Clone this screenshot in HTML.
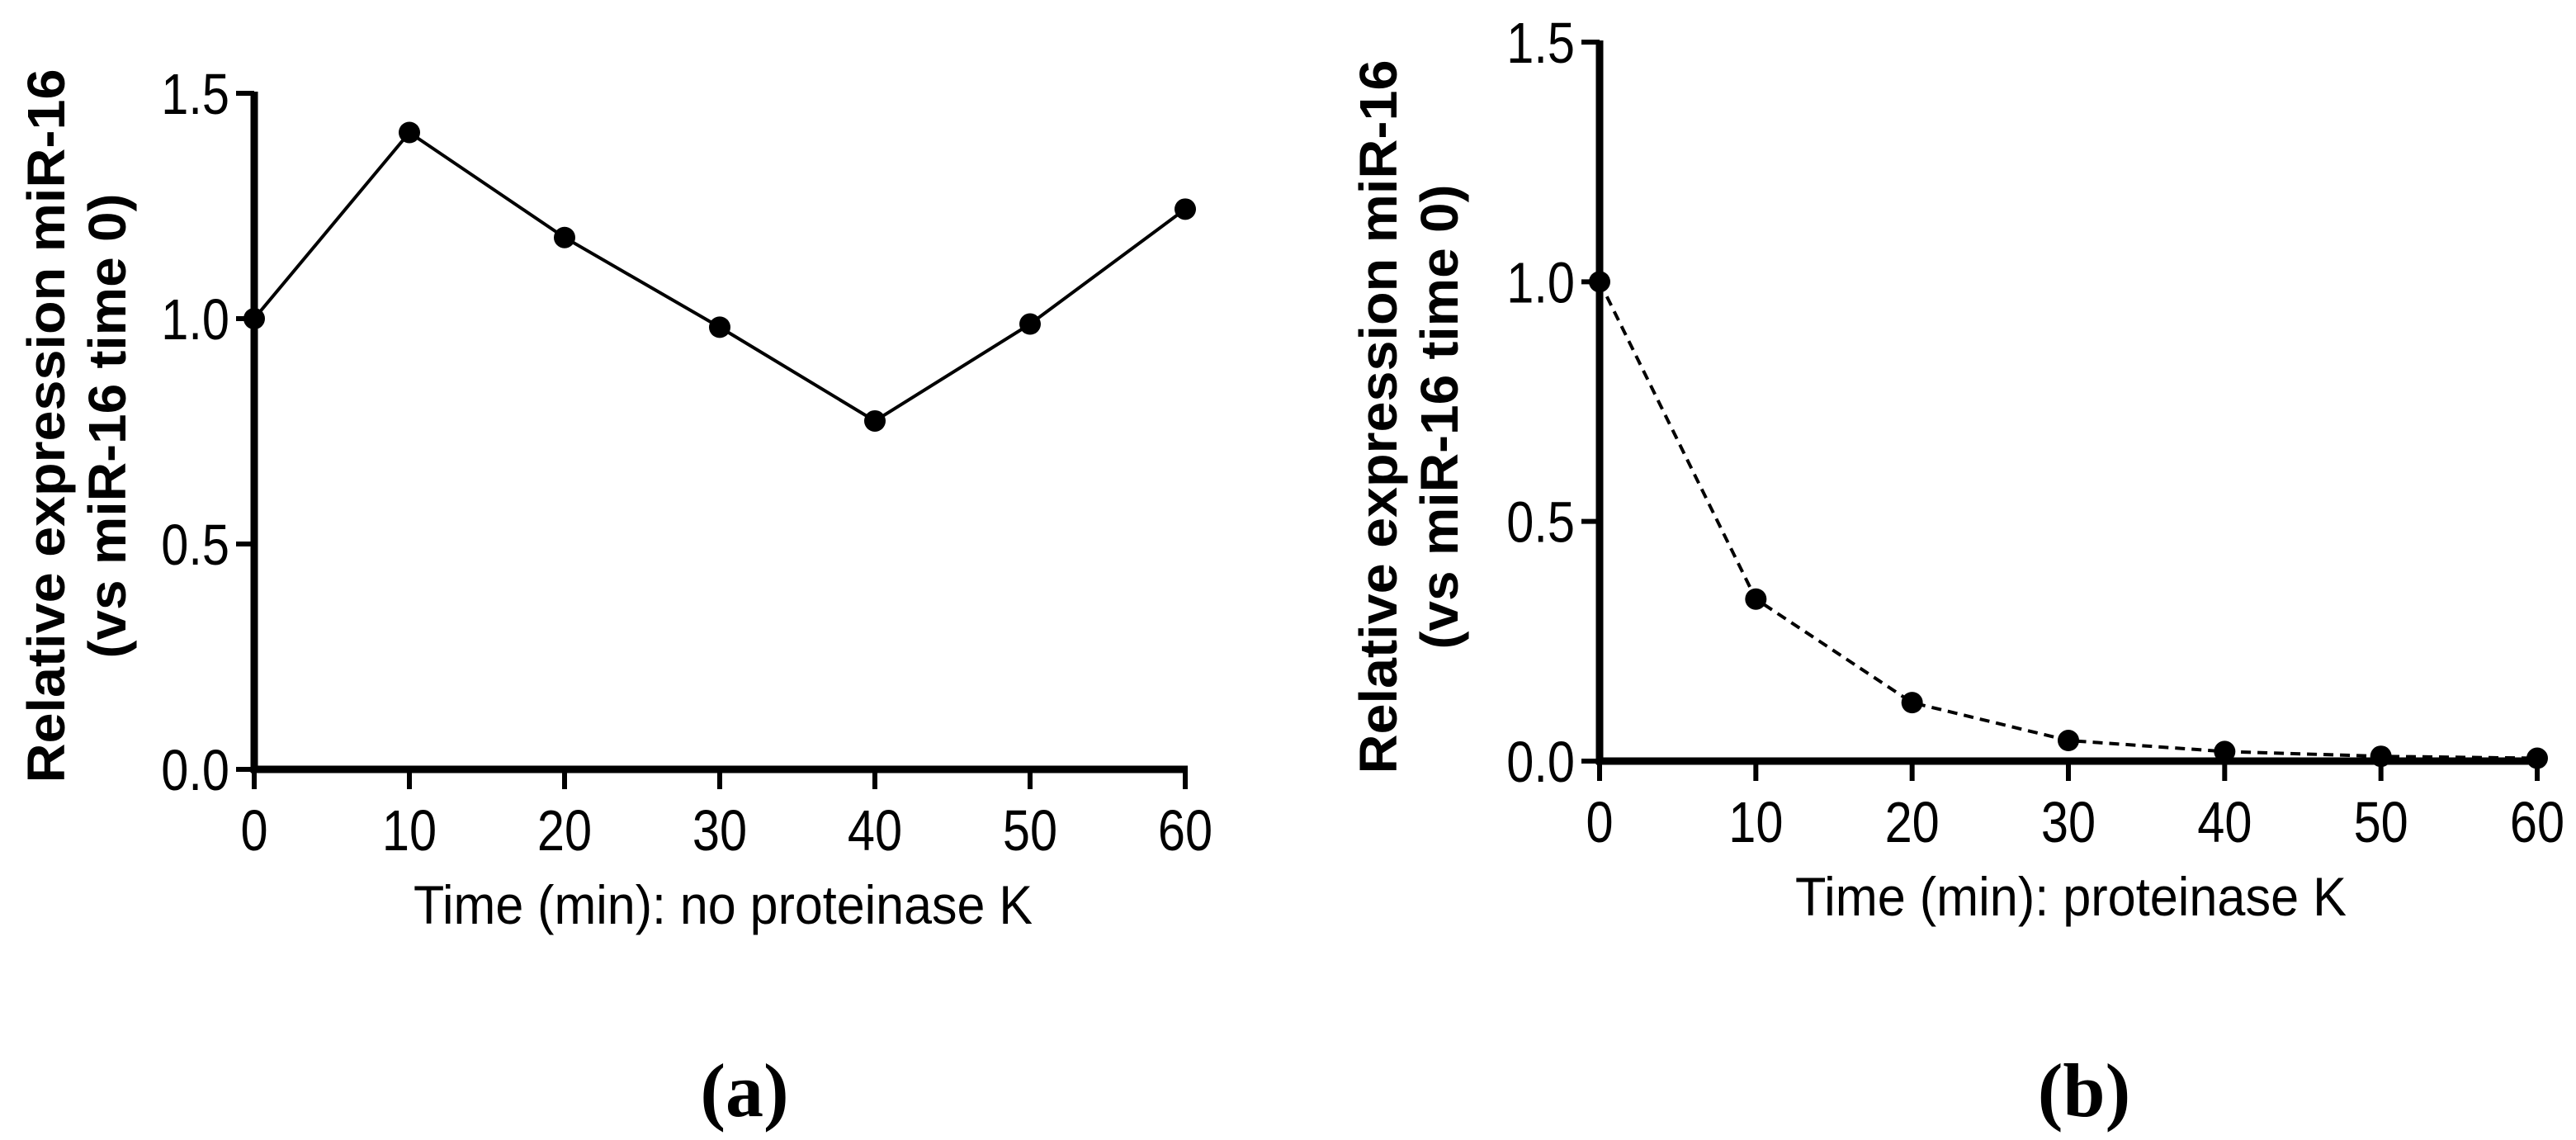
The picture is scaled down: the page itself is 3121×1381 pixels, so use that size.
<!DOCTYPE html>
<html><head><meta charset="utf-8"><style>
html,body{margin:0;padding:0;background:#fff}
svg{display:block}
text{font-family:"Liberation Sans",Arial,sans-serif;fill:#000}
</style></head><body>
<svg id="chart" width="3121" height="1381" viewBox="0 0 3121 1381" xmlns="http://www.w3.org/2000/svg"></svg>
<script>
const timeCategories = [0, 10, 20, 30, 40, 50, 60];
const seriesA = [1.0, 1.413, 1.18, 0.981, 0.773, 0.988, 1.243];
const seriesB = [1.0, 0.338, 0.122, 0.043, 0.02, 0.01, 0.006];
const yTickLabels = ["0.0", "0.5", "1.0", "1.5"];
const yTickValues = [0, 0.5, 1.0, 1.5];
const xTickLabels = ["0", "10", "20", "30", "40", "50", "60"];

const NS = "http://www.w3.org/2000/svg";
const svg = document.getElementById('chart');
function mk(tag, attrs, parent) {
  const e = document.createElementNS(NS, tag);
  for (const k in attrs) e.setAttribute(k, attrs[k]);
  (parent || svg).appendChild(e);
  return e;
}

function panel(cfg) {
  const g = mk('g', {});
  
  
  const xs = v => cfg.x0 + (v - 0) / 60 * (cfg.x1 - cfg.x0);
  const ys = v => cfg.y0 - v / 1.5 * (cfg.y0 - cfg.y1);
  const ya = mk('line', {x1: cfg.x0, y1: ys(1.5) - 2, x2: cfg.x0, y2: cfg.y0 + 4, stroke: '#000', 'stroke-width': 9}, g);
  
  
  const xa = mk('line', {x1: cfg.x0 - 4, y1: cfg.y0, x2: xs(60) + 3, y2: cfg.y0, stroke: '#000', 'stroke-width': 9}, g);
  
  
  yTickValues.forEach((v, i) => {
    const t = mk('line', {x1: cfg.x0 - 22, y1: ys(v), x2: cfg.x0, y2: ys(v), stroke: '#000', 'stroke-width': 6}, g);
    
    
    const l = mk('text', {x: 0, y: 0, 'font-size': 70, 'text-anchor': 'end',
      transform: `translate(${cfg.x0 - 30},${ys(v) + 25}) scale(0.85,1)`}, g);
    l.textContent = yTickLabels[i];
    
    
  });
  timeCategories.forEach((v, i) => {
    const t = mk('line', {x1: xs(v), y1: cfg.y0, x2: xs(v), y2: cfg.y0 + 24, stroke: '#000', 'stroke-width': 6}, g);
    
    
    const l = mk('text', {x: 0, y: 0, 'font-size': 70, 'text-anchor': 'middle',
      transform: `translate(${xs(v)},${cfg.y0 + 98}) scale(0.85,1)`}, g);
    l.textContent = xTickLabels[i];
    
    
  });
  const pts = timeCategories.map((v, i) => xs(v) + ',' + ys(cfg.data[i])).join(' ');
  const pl = mk('polyline', {points: pts, fill: 'none', stroke: '#000', 'stroke-width': 4}, g);
  if (cfg.dashed) pl.setAttribute('stroke-dasharray', '12,8');
  
  
  timeCategories.forEach((v, i) => {
    const c = mk('ellipse', {cx: xs(v), cy: ys(cfg.data[i]), rx: 13, ry: 13, fill: '#000'}, g);
    
    
  });
  const yt = mk('text', {'font-size': 64, 'font-weight': 'bold', 'text-anchor': 'middle',
    transform: `translate(${cfg.ytx},${cfg.yty}) rotate(-90)`}, g);
  
  
  const s1 = mk('tspan', {x: 0, y: 0, textLength: 865, lengthAdjust: 'spacingAndGlyphs'}, yt);
  s1.textContent = 'Relative expression miR-16';
  const s2 = mk('tspan', {x: 0, y: 74, textLength: 563, lengthAdjust: 'spacingAndGlyphs'}, yt);
  s2.textContent = '(vs miR-16 time 0)';
  const xt = mk('text', {x: cfg.xtx, y: cfg.y0 + 187, 'font-size': 66, 'text-anchor': 'middle',
    textLength: cfg.xtl, lengthAdjust: 'spacingAndGlyphs'}, g);
  xt.textContent = cfg.xtitle;
  
  
  const pl2 = mk('text', {x: cfg.lx, y: 1352, 'font-size': 92, 'font-weight': 'bold', 'text-anchor': 'middle',
    style: 'font-family:"Liberation Serif",serif'}, g);
  pl2.textContent = cfg.label;
  
  
}

panel({name: 'panel-a', x0: 308, x1: 1436, y0: 932, y1: 113, data: seriesA, dashed: false,
  ytx: 78, yty: 516, xtx: 876, xtl: 750, xtitle: 'Time (min): no proteinase K', lx: 902, label: '(a)'});
panel({name: 'panel-b', x0: 1938, x1: 3074, y0: 922, y1: 51, data: seriesB, dashed: true,
  ytx: 1692, yty: 505, xtx: 2509, xtl: 668, xtitle: 'Time (min): proteinase K', lx: 2525, label: '(b)'});
</script>
</body></html>
